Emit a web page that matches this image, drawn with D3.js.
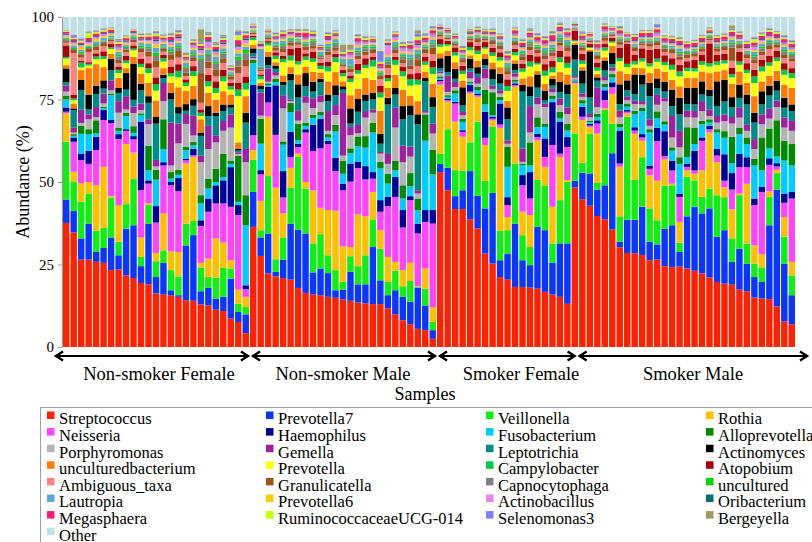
<!DOCTYPE html>
<html>
<head>
<meta charset="utf-8">
<script src="https://cdn.jsdelivr.net/npm/d3@7"></script>
<style>
body { margin: 0; background: #fff; }
svg { font-family: "Liberation Serif", "Times New Roman", serif; }
</style>
</head>
<body>
<svg id="chart" width="812" height="542"></svg>
<script>
// groups of samples, left to right
const groupNames = ["Non-smoker Female", "Non-smoker Male", "Smoker Female", "Smoker Male"];
const groupSizes = [25, 25, 18, 30];

// taxa, bottom of the stack to the top (legend reads row by row)
const taxa = ["Streptococcus", "Prevotella7", "Veillonella", "Rothia",
  "Neisseria", "Haemophilus", "Fusobacterium", "Alloprevotella",
  "Porphyromonas", "Gemella", "Leptotrichia", "Actinomyces",
  "unculturedbacterium", "Prevotella", "Campylobacter", "Atopobium",
  "Ambiguous_taxa", "Granulicatella", "Capnocytophaga", "uncultured",
  "Lautropia", "Prevotella6", "Actinobacillus", "Oribacterium",
  "Megasphaera", "RuminococcaceaeUCG-014", "Selenomonas3", "Bergeyella", "Other"];

const taxonColors = ["#ff2200", "#0a36ff", "#11ee11", "#ffc000",
  "#ff44ff", "#000099", "#00ccff", "#008a00",
  "#b4b4b4", "#a0209f", "#008b8b", "#000000",
  "#ff7a00", "#ffff00", "#00c848", "#a80000",
  "#ff8080", "#a05214", "#808080", "#00d800",
  "#58a8d8", "#ffcc00", "#ee82ee", "#007272",
  "#ff1a75", "#c8ff00", "#8080ff", "#a39a60", "#bfe0e9"];

// abundance (%) per sample; groups of 25 / 25 / 18 / 30 samples
const streptococcus = [37.6,34.7,26.5,26.5,25.8,25.5,23.3,23.5,21.7,20.9,19.4,19.0,16.2,15.9,15.7,15.2,14.2,14.0,12.9,12.6,11.3,10.9,8.6,7.6,4.2,
  36.4,27.6,22.3,21.4,20.9,20.4,17.9,16.4,15.9,15.7,15.2,14.9,14.4,14.0,13.5,13.2,13.0,13.0,11.7,9.9,8.1,6.9,5.5,5.1,2.5,
  53.0,47.5,41.8,41.8,38.7,35.9,28.3,25.3,21.2,20.4,18.2,18.2,18.0,17.7,16.7,15.9,15.2,13.1,
  48.4,44.8,42.8,39.7,38.7,35.6,30.2,28.5,28.4,27.9,26.3,26.5,24.5,24.2,24.4,23.8,23.1,22.3,21.1,19.7,19.2,18.9,17.4,16.9,15.0,14.7,14.5,12.3,7.8,6.9];
const prevotella7 = [7.1,6.5,6.4,10.9,3.0,4.5,9.9,4.3,14.2,16.0,5.1,18.4,5.0,9.6,1.5,0.5,16.6,19.9,4.0,5.4,3.4,4.3,12.1,3.0,5.7,
  10.6,5.6,12.1,1.4,5.6,17.0,17.7,18.0,6.7,8.1,7.2,2.3,3.0,8.8,5.5,5.8,17.3,7.2,4.0,7.3,7.1,6.8,12.5,7.5,2.6,
  2.5,6.8,3.9,5.7,14.6,9.9,13.7,21.4,5.1,7.9,19.2,8.1,6.8,18.7,18.7,9.7,16.2,18.3,
  2.0,8.0,9.8,8.0,10.3,23.1,1.7,10.1,10.2,14.6,5.6,4.6,11.4,12.7,4.4,15.8,19.4,18.2,20.9,13.7,16.2,6.9,12.4,8.4,6.2,5.0,22.4,35.4,17.5,8.8];
const veillonella = [17.5,8.8,11.1,9.1,6.4,6.2,12.1,4.1,7.4,14.0,2.8,5.6,4.8,3.8,6.1,5.7,6.6,4.3,7.2,3.2,6.3,8.8,3.1,2.5,2.2,
  9.8,2.2,17.4,3.8,6.7,10.9,22.0,13.6,8.8,10.4,5.4,6.1,2.3,4.7,5.5,8.8,8.4,9.6,4.0,5.9,3.2,6.3,0.2,5.1,2.5,
  3.0,11.7,7.9,6.0,8.7,22.5,8.3,20.0,8.9,7.1,18.2,7.6,5.5,14.2,13.6,5.8,13.1,18.7,
  14.3,3.0,12.0,2.0,22.8,9.0,7.7,31.2,12.0,15.0,10.1,7.3,13.0,12.1,2.8,12.0,8.0,5.0,6.0,12.6,10.0,7.1,16.2,6.1,4.1,4.4,8.6,5.0,8.1,6.0];
const rothia = [8.6,3.1,5.6,3.5,13.8,18.4,0.5,11.1,18.2,8.0,5.9,0.5,2.5,11.2,5.7,7.4,18.2,19.4,1.4,5.6,11.9,7.7,2.5,4.3,3.1,
  2.9,8.9,18.0,21.7,7.3,6.0,1.0,2.0,16.0,8.0,13.7,18.0,10.8,2.8,15.7,11.8,8.3,5.6,7.6,2.7,4.9,5.5,0.2,6.1,4.5,
  21.0,8.3,14.7,10.2,14.9,7.5,10.9,2.0,31.2,4.0,23.3,7.1,9.7,12.0,5.6,11.1,13.1,0.5,
  15.2,13.0,2.0,15.0,0.5,9.0,15.0,1.0,14.0,5.0,10.0,12.0,8.0,0.5,6.3,2.0,2.0,8.0,17.0,10.0,3.0,8.8,0.5,18.1,5.5,4.0,1.7,1.0,6.0,4.1];
const neisseria = [0.5,9.1,7.0,5.5,10.7,14.2,22.0,20.0,4.0,4.0,14.3,6.0,9.2,14.5,20.0,18.4,1.0,0.5,11.2,14.2,10.6,11.8,16.2,22.6,2.3,
  4.5,8.0,4.3,16.0,4.8,3.3,2.0,15.0,12.0,18.0,20.0,12.0,17.0,19.8,14.0,11.2,4.0,5.6,15.4,19.7,12.9,19.0,16.0,14.1,25.3,
  1.0,0.5,5.5,1.5,0.5,0.5,2.2,0.5,1.0,3.6,0.5,8.0,5.0,1.0,3.0,18.7,1.0,10.0,
  0.3,1.0,0.5,3.0,2.5,2.0,1.0,0.5,1.0,1.0,2.0,12.0,1.0,4.0,7.6,1.0,1.0,9.0,1.0,2.0,2.0,6.0,8.0,5.0,12.2,18.9,8.0,1.0,4.3,19.2];
const haemophilus = [1.3,1.3,2.0,4.0,4.0,3.0,1.0,1.5,0.5,1.0,20.8,1.0,5.0,1.0,1.0,4.0,0.5,2.0,1.7,4.0,5.5,7.0,12.0,3.0,1.2,
  15.2,1.3,4.8,15.0,8.0,7.6,1.0,1.0,8.0,9.0,1.0,4.0,2.0,5.5,2.0,4.0,2.0,3.5,2.8,6.0,5.3,1.2,3.0,3.6,4.1,
  0.5,0.5,0.5,0.5,2.0,0.5,7.9,0.5,6.4,2.4,0.5,3.1,8.0,1.0,5.6,13.0,9.7,3.0,
  0.3,3.0,0.5,1.0,3.0,1.5,10.0,0.5,1.0,1.0,1.0,4.0,7.5,3.0,1.0,1.0,6.0,1.0,1.0,2.0,8.0,5.0,4.0,3.0,2.0,1.5,2.0,1.0,2.8,2.0];
const fusobacterium = [2.4,0.5,6.0,5.0,1.0,0.5,7.5,1.0,4.0,1.0,2.0,3.0,8.0,4.0,1.0,1.0,2.5,1.0,5.1,3.0,1.0,1.0,1.0,1.0,18.2,
  6.6,8.0,0.5,1.0,8.0,6.0,1.0,1.0,2.0,1.0,1.0,8.0,3.0,3.1,4.6,5.6,12.0,9.6,4.0,2.0,3.5,3.0,4.0,21.0,10.8,
  0.5,0.5,2.5,2.5,0.5,1.0,2.2,0.5,1.0,9.2,0.5,3.0,2.0,2.0,3.5,1.0,1.0,2.0,
  0.3,1.0,0.5,1.0,1.0,1.5,1.0,1.0,4.0,7.0,10.0,3.0,2.0,3.0,9.0,2.0,2.0,4.0,1.0,5.0,5.0,3.0,6.0,4.0,10.0,5.0,3.0,2.0,10.0,8.0];
const alloprevotella = [1.2,0.5,2.5,1.5,4.0,0.5,0.5,1.0,1.0,2.0,0.5,7.5,3.0,9.0,2.0,1.5,1.0,1.0,2.5,3.0,4.0,7.0,1.0,14.0,9.1,
  1.0,7.5,0.5,1.0,1.0,2.8,5.0,1.0,1.0,1.0,1.0,2.0,4.0,1.5,3.0,3.5,3.0,2.0,3.0,3.0,4.0,4.0,3.6,8.0,7.4,
  0.5,0.5,1.0,1.0,0.5,1.0,4.4,7.0,1.0,6.0,0.5,0.5,7.0,3.0,1.0,1.0,2.0,2.0,
  0.3,1.0,0.5,1.0,1.0,1.0,1.0,1.0,1.0,1.0,1.0,2.0,1.0,1.0,2.0,9.0,5.0,1.0,1.0,1.0,2.0,8.0,2.0,2.0,2.0,10.0,6.0,11.0,6.0,6.5];
const porphyromonas = [1.2,0.5,0.8,3.0,1.0,1.0,1.0,4.5,1.0,4.0,1.0,6.5,1.0,5.5,2.0,8.0,7.0,2.0,10.0,9.0,8.0,7.0,10.0,0.5,10.0,
  0.5,1.0,0.5,1.0,10.0,0.5,1.0,6.0,2.0,3.0,1.0,3.0,1.5,4.0,1.0,5.6,3.0,2.5,3.0,10.0,7.0,5.0,1.5,0.5,5.0,
  1.0,1.0,1.0,1.0,1.0,1.0,3.5,1.0,1.0,1.0,1.0,0.5,3.0,4.0,5.0,1.0,2.0,3.0,
  0.5,1.0,1.0,2.0,1.0,1.0,2.0,1.0,2.0,1.0,1.0,2.0,6.0,3.0,3.0,3.0,3.0,3.0,1.0,2.0,3.0,4.0,3.0,2.0,3.0,4.0,3.0,4.0,4.0,4.0];
const gemella = [1.8,1.5,4.0,1.5,3.0,3.0,3.0,3.5,4.0,2.0,2.0,1.5,2.0,5.5,13.0,6.0,3.0,6.0,2.0,7.0,2.0,3.0,4.0,0.5,4.0,
  0.5,7.0,4.0,1.0,4.0,0.5,3.0,2.0,3.0,2.0,6.0,3.0,19.0,2.5,2.5,2.0,1.0,0.5,3.0,6.0,5.0,3.0,1.0,0.5,3.0,
  0.5,5.0,1.5,1.0,2.0,2.0,3.0,1.0,1.0,1.0,1.0,4.0,8.0,2.0,1.0,1.0,2.0,2.0,
  0.5,1.0,1.0,6.0,1.0,1.0,2.0,1.0,1.0,1.0,2.0,3.0,1.0,6.5,5.0,2.0,2.0,3.0,2.0,2.0,2.0,2.0,3.0,2.0,3.0,3.0,3.0,2.0,3.0,3.0];
const leptotrichia = [1.0,5.3,6.0,1.5,4.0,1.5,3.0,2.5,2.0,2.0,4.0,5.0,11.0,1.5,7.0,3.0,1.0,3.0,6.0,3.0,6.0,3.0,2.0,0.5,8.0,
  1.0,1.0,1.0,1.0,3.0,5.8,4.0,3.0,2.0,4.0,3.0,3.0,1.0,1.0,4.0,3.0,3.0,2.5,15.0,4.0,8.0,9.5,20.0,9.0,5.0,
  1.0,1.0,1.0,2.0,1.0,1.0,1.0,2.0,2.0,6.5,1.0,17.3,3.0,3.0,1.0,1.0,2.0,4.0,
  5.0,3.0,5.0,2.0,2.0,1.0,2.0,2.0,2.0,5.0,7.0,2.0,2.0,3.0,5.0,2.0,2.0,2.0,4.0,3.0,4.0,3.0,3.0,6.0,5.0,3.0,4.0,3.0,3.0,3.0];
const actinomyces = [4.2,0.5,3.0,4.5,2.5,2.5,3.5,1.5,5.0,11.0,2.0,2.0,2.0,1.0,2.0,2.0,2.0,2.0,1.0,3.0,1.0,2.0,1.0,0.5,3.0,
  1.5,1.0,2.5,1.0,1.0,2.0,4.0,4.0,3.0,1.0,2.0,3.0,1.0,4.6,4.0,2.0,2.0,3.0,2.0,2.0,4.0,3.0,3.0,1.0,3.0,
  3.0,5.0,3.0,5.5,3.0,2.0,2.0,3.0,3.0,3.5,2.0,2.0,3.0,4.0,3.0,2.0,3.0,3.0,
  4.5,4.0,14.0,1.0,3.0,3.5,6.0,3.0,6.0,3.0,4.0,3.0,3.0,5.0,5.0,5.0,5.0,4.0,2.0,7.5,6.5,3.0,4.0,3.0,3.0,4.0,3.0,3.0,3.0,2.0];
const unculturedbacterium = [1.0,1.5,3.0,8.0,6.5,4.0,1.5,3.0,1.5,2.0,3.0,4.0,5.0,2.0,3.0,6.0,4.0,4.0,4.0,4.0,4.0,4.0,3.0,2.0,5.0,
  1.0,1.0,1.5,1.0,2.0,2.0,3.0,2.0,3.0,2.0,4.0,4.0,1.5,4.0,3.0,5.0,4.0,7.0,3.0,4.0,5.0,3.0,4.0,2.0,4.0,
  1.5,1.5,2.0,2.0,1.0,2.0,1.5,2.0,2.0,2.0,1.0,2.0,3.0,1.0,2.0,1.0,3.0,3.0,
  0.5,1.0,0.5,1.0,1.0,2.0,4.0,2.0,2.0,2.0,3.0,3.0,3.0,3.0,3.5,3.0,3.0,3.0,5.0,3.0,3.0,4.0,4.0,3.5,5.0,3.0,3.0,3.0,4.0,5.0];
const prevotella = [2.0,1.0,0.8,0.8,1.5,2.5,1.5,1.5,1.5,2.0,2.0,3.0,3.0,2.0,2.0,3.0,1.5,3.0,1.0,2.0,2.0,3.0,1.5,14.0,2.0,
  1.5,1.0,2.0,1.0,4.0,2.0,3.0,2.0,3.0,1.0,3.0,3.0,1.5,4.0,4.5,3.0,4.0,4.0,2.0,3.0,4.0,3.0,5.0,2.0,3.0,
  2.0,1.5,2.0,2.0,1.5,2.0,1.5,2.0,2.0,3.0,1.5,2.0,3.0,2.0,2.5,1.0,3.0,2.0,
  0.5,1.0,0.5,1.0,2.0,1.0,3.0,2.0,1.0,2.0,2.0,2.0,2.0,3.0,3.0,2.0,2.0,2.0,2.0,2.0,2.0,2.0,2.0,3.0,4.0,3.0,3.0,3.0,3.0,3.0];
const campylobacter = [0.5,0.5,1.5,0.5,0.8,0.8,0.5,1.0,0.8,0.5,1.0,1.5,2.0,1.0,1.0,2.0,1.0,1.5,1.0,1.5,1.5,1.5,1.0,2.0,2.0,
  0.8,1.0,0.8,1.0,1.0,1.5,1.0,1.0,1.0,1.0,1.5,1.5,1.0,1.0,1.0,1.0,2.0,1.5,1.0,1.5,1.5,2.0,1.5,1.0,2.0,
  0.8,0.5,1.0,1.0,1.0,1.0,0.5,1.0,1.0,1.5,1.0,1.0,1.5,0.5,1.5,1.5,1.5,1.5,
  0.3,1.0,0.3,1.0,1.0,0.5,1.0,1.0,1.0,1.0,1.0,1.0,1.0,1.5,1.5,1.0,1.0,1.0,1.0,1.0,1.0,1.0,1.0,1.0,2.0,1.5,1.0,1.0,1.5,1.5];
const atopobium = [3.5,1.2,0.5,0.5,1.0,1.5,1.0,1.0,1.5,1.0,1.5,1.5,2.0,1.0,2.0,2.0,1.0,1.5,1.0,2.0,2.0,2.0,1.0,2.0,2.0,
  0.5,0.5,0.5,1.0,1.0,2.0,4.0,1.0,2.0,1.0,1.5,1.0,1.0,1.0,2.0,2.0,1.0,2.0,1.0,1.0,1.5,1.5,2.0,1.5,2.0,
  1.5,1.0,1.5,1.5,1.5,1.5,1.5,1.5,1.5,2.0,1.0,1.5,2.0,2.0,2.0,2.0,2.0,2.0,
  3.0,2.0,1.0,1.5,1.0,1.0,3.0,6.0,2.0,3.0,4.0,3.0,2.0,2.0,2.0,2.0,2.5,2.0,6.0,2.0,2.0,2.0,3.0,2.0,2.0,2.0,2.0,2.0,2.0,1.5];
const ambiguousTaxa = [0.8,12.5,1.0,3.0,1.0,1.5,0.8,1.0,1.0,1.0,2.0,2.0,3.0,1.0,2.0,2.0,1.0,1.5,2.0,2.0,1.5,2.0,1.0,3.0,3.0,
  0.5,1.0,0.5,0.5,1.0,1.0,1.0,1.0,1.0,1.0,2.0,1.0,1.0,1.0,1.5,1.0,1.0,2.0,2.0,1.0,1.0,1.5,2.0,1.0,2.0,
  0.8,0.5,0.5,1.0,0.5,1.0,0.5,1.0,1.0,1.5,1.0,1.0,1.5,1.0,1.5,1.5,1.5,1.5,
  0.3,1.0,0.5,1.0,1.0,0.5,1.0,0.5,1.0,1.0,1.0,1.0,1.0,1.5,1.5,1.0,1.0,1.0,1.0,1.0,1.0,2.0,1.0,1.5,2.0,1.5,2.0,1.0,1.5,2.0];
const granulicatella = [0.5,1.0,0.8,1.0,1.0,1.0,0.6,1.0,0.8,0.8,1.0,1.5,2.0,0.8,1.5,2.0,1.0,1.0,9.0,2.0,2.0,1.5,1.0,2.0,2.0,
  0.5,0.5,0.5,1.0,1.0,1.0,0.5,1.0,1.0,0.5,1.0,1.0,0.5,1.0,1.0,1.0,1.0,1.0,1.0,1.0,1.0,1.0,2.0,1.0,2.0,
  0.5,0.5,0.5,1.0,0.5,1.0,0.5,1.0,1.0,1.0,1.0,1.0,1.0,1.0,1.0,1.0,1.0,1.0,
  0.2,1.0,0.5,1.0,1.0,0.5,1.0,0.5,1.0,0.5,1.0,1.0,1.0,1.0,1.0,1.0,1.0,1.0,0.5,1.0,1.0,4.0,1.0,1.0,1.0,1.0,1.0,1.0,1.0,1.0];
const capnocytophaga = [0.3,0.3,0.5,0.3,0.5,0.5,0.3,1.0,0.5,0.5,0.5,1.0,1.5,0.5,1.0,1.0,1.5,1.0,4.0,2.0,2.0,1.5,0.5,2.0,2.0,
  0.3,0.5,0.3,0.5,1.0,0.5,0.5,0.5,1.0,0.5,1.0,1.0,0.5,0.5,1.0,1.0,0.5,0.5,1.0,1.0,1.0,2.0,1.5,0.5,1.0,
  0.5,0.3,0.5,0.5,0.3,0.5,0.3,0.5,0.5,1.0,0.5,1.0,1.0,0.5,1.0,1.0,1.0,1.0,
  0.2,0.5,0.3,0.5,0.5,0.3,0.5,0.3,0.5,0.5,0.5,0.5,0.5,0.5,1.0,0.5,0.5,0.5,0.5,0.5,0.5,1.0,0.5,0.5,1.0,1.0,1.0,0.5,1.0,1.0];
const uncultured = [0.3,0.3,0.5,0.3,0.3,0.3,0.3,0.5,0.3,0.3,0.5,0.5,1.0,0.3,0.5,0.5,0.5,0.5,0.5,0.5,0.5,0.5,0.3,1.0,1.0,
  0.3,0.3,0.3,0.3,0.5,0.5,0.3,0.5,0.5,0.3,0.5,0.5,0.3,0.5,0.5,0.5,0.5,0.5,0.5,0.5,0.5,0.5,0.5,0.5,0.5,
  0.3,0.3,0.3,0.3,0.3,0.3,0.3,0.3,0.3,0.5,0.3,0.5,0.5,0.5,0.5,0.5,0.5,0.5,
  0.2,0.3,0.2,0.3,0.3,0.2,0.3,0.2,0.3,0.3,0.3,0.3,0.3,0.3,0.5,0.3,0.3,0.3,0.3,0.3,0.3,0.5,0.3,0.3,0.5,0.5,0.5,0.3,0.5,0.5];
const lautropia = [0.5,0.8,0.5,0.5,0.8,0.8,0.5,1.0,0.6,0.5,0.8,1.0,1.5,0.8,1.0,1.0,1.0,1.0,1.0,1.0,1.5,1.0,0.5,1.0,1.0,
  0.3,5.5,0.5,1.0,1.0,0.5,0.5,0.5,0.5,1.0,1.0,1.0,1.0,2.0,1.0,0.5,0.5,0.5,1.0,1.0,0.5,1.0,1.0,0.5,1.0,
  0.3,0.3,0.3,0.5,0.3,0.5,0.3,0.5,0.5,1.0,0.5,0.5,0.5,0.5,1.0,1.0,1.0,1.0,
  0.2,0.5,0.3,0.5,0.5,0.3,0.5,0.3,0.5,0.5,0.5,0.5,0.5,0.5,1.0,0.5,0.5,0.5,0.3,0.5,0.5,1.0,0.5,0.5,1.0,1.0,0.5,0.5,1.0,0.5];
const prevotella6 = [0.5,0.4,1.0,0.5,0.8,0.5,0.5,0.5,0.5,0.3,0.5,0.5,1.0,0.5,0.5,0.5,0.5,0.5,0.5,0.5,0.5,0.5,0.3,1.0,1.0,
  0.3,0.3,0.3,0.3,0.5,0.5,0.3,0.5,0.3,0.3,0.5,0.5,0.3,0.3,0.5,0.3,0.5,0.5,0.5,0.5,0.5,0.5,0.5,0.5,0.5,
  0.3,0.3,0.3,0.3,0.3,0.3,0.3,0.3,0.3,0.5,0.5,0.5,0.5,0.5,0.5,0.5,0.5,0.5,
  0.2,0.5,0.2,0.5,0.3,0.2,0.3,0.2,0.3,0.3,0.3,0.3,0.3,0.3,0.5,0.3,0.3,0.3,0.3,0.3,0.3,0.5,0.3,0.3,0.5,0.5,0.5,0.3,0.5,0.5];
const actinobacillus = [0.3,0.5,0.5,0.5,0.5,0.6,0.3,0.8,0.5,0.3,0.5,0.5,1.0,0.5,1.0,0.8,0.5,0.8,1.0,2.0,1.0,0.8,0.3,1.0,1.0,
  0.3,0.5,0.3,0.5,0.5,0.5,0.3,0.5,0.5,0.3,0.5,0.5,0.5,1.0,1.0,0.5,0.5,0.5,3.0,1.0,1.0,1.0,1.0,0.5,1.0,
  0.3,0.3,0.3,0.5,0.3,0.5,0.3,0.5,0.5,0.5,0.5,0.5,0.5,0.5,0.5,0.5,0.5,0.5,
  0.2,0.5,0.3,0.5,0.5,0.3,0.5,0.3,0.5,0.3,0.3,1.0,0.3,0.5,0.5,0.3,0.3,0.3,0.3,0.3,0.3,0.5,0.3,0.5,1.0,0.5,0.5,0.3,0.5,0.5];
const oribacterium = [0.3,0.4,0.3,0.3,0.3,0.3,0.3,0.3,0.3,0.3,0.3,0.3,0.5,0.3,0.5,0.5,0.3,0.3,0.5,0.5,0.5,0.5,0.2,0.5,0.5,
  0.3,0.3,0.2,0.3,0.3,0.3,0.3,0.3,0.3,0.3,0.3,0.3,0.3,0.3,0.3,0.3,0.3,0.3,0.3,0.3,0.3,0.3,0.5,0.3,0.3,
  0.3,0.3,0.3,0.3,0.3,0.3,0.3,0.3,0.3,0.3,0.3,0.3,0.3,0.3,0.3,0.3,0.3,0.3,
  0.2,0.3,0.2,0.3,0.3,0.2,0.3,0.2,0.3,0.3,0.3,0.3,0.3,0.3,0.3,0.3,0.3,0.3,0.3,0.3,0.3,0.3,0.3,0.3,0.3,0.3,0.3,0.3,0.3,0.3];
const megasphaera = [0.6,0.6,0.5,1.0,0.8,0.5,0.8,0.8,0.8,0.5,0.6,0.8,1.0,0.6,1.0,0.8,0.6,0.6,0.8,1.0,1.0,0.8,0.5,1.5,1.0,
  0.3,0.5,0.3,0.5,0.8,0.5,1.0,1.5,0.5,0.5,1.0,0.5,0.5,0.5,1.0,0.5,0.5,1.0,0.5,0.5,0.5,1.0,1.0,1.0,1.0,
  0.5,0.5,0.5,0.5,0.5,0.5,0.5,0.5,0.5,1.0,1.0,1.0,1.0,1.0,1.0,1.5,1.0,1.0,
  0.3,1.0,0.5,1.0,1.0,0.5,1.0,0.5,1.0,1.0,1.0,1.0,1.0,1.0,1.0,1.0,1.0,1.0,0.5,1.0,1.0,1.0,1.0,1.0,1.0,1.0,1.0,1.0,1.0,1.0];
const ruminococcaceae = [0.4,0.4,0.5,1.5,0.5,0.5,0.5,0.5,0.5,0.3,0.5,0.5,0.8,0.5,0.5,0.5,0.5,0.5,0.5,0.5,0.5,0.5,0.3,1.5,0.5,
  0.3,0.3,0.3,0.5,0.5,0.3,0.5,0.5,0.5,0.3,0.5,0.5,0.5,0.5,0.5,0.5,0.5,0.5,0.5,0.5,0.5,0.5,1.0,0.5,0.5,
  0.3,0.3,0.3,0.5,0.3,0.5,0.3,0.5,0.5,0.5,0.5,0.5,0.5,0.5,0.5,0.5,0.5,0.5,
  0.2,0.5,0.3,0.5,0.5,0.3,0.5,0.3,0.5,0.5,0.5,0.5,0.5,0.5,0.5,0.5,0.5,0.5,0.5,0.5,0.5,0.5,0.5,0.5,1.0,0.5,0.5,0.5,0.5,0.5];
const selenomonas3 = [0.2,0.8,0.6,0.3,0.3,0.3,0.2,0.5,0.3,0.2,0.4,0.3,0.5,0.3,0.5,0.5,0.3,0.3,0.5,0.5,0.5,0.5,0.2,1.0,0.5,
  0.3,0.3,0.2,0.5,0.3,0.3,0.5,0.3,0.3,0.3,0.5,0.3,0.3,0.3,0.5,0.3,0.3,3.0,0.3,0.3,0.3,0.5,1.0,0.5,0.5,
  0.3,0.3,0.3,0.3,0.3,0.3,0.3,0.3,0.3,0.5,0.3,0.5,0.5,0.5,0.5,0.5,0.5,0.5,
  0.2,0.5,0.2,0.5,0.3,0.2,0.5,0.2,0.3,0.3,0.3,1.0,0.3,0.3,0.3,0.3,0.3,0.3,0.3,0.3,0.3,0.5,0.3,0.3,0.5,0.3,0.5,0.3,0.5,0.5];
const bergeyella = [0.1,0.2,0.2,0.2,0.2,0.2,0.1,0.5,0.2,0.1,0.2,0.2,0.3,0.2,0.3,0.3,0.5,0.3,4.0,0.5,0.5,0.5,0.3,0.5,0.3,
  0.1,0.1,0.1,0.2,0.3,0.2,0.2,0.3,0.2,0.2,0.3,0.3,2.0,1.5,0.3,0.3,0.2,0.3,0.3,0.2,0.3,0.3,1.0,0.3,0.3,
  0.1,0.1,0.2,0.3,0.2,0.2,0.2,0.2,0.2,0.3,0.3,0.3,0.3,0.3,0.3,0.3,0.3,0.3,
  0.1,0.3,0.1,0.3,0.2,0.1,0.3,0.1,0.2,0.2,0.2,0.2,0.2,0.2,0.3,0.2,0.2,0.2,0.2,0.2,0.2,1.0,0.2,0.2,0.3,0.3,0.3,0.2,0.3,0.3];

const yTicks = [0, 25, 50, 75, 100];

const series = [streptococcus, prevotella7, veillonella, rothia, neisseria, haemophilus,
  fusobacterium, alloprevotella, porphyromonas, gemella, leptotrichia, actinomyces,
  unculturedbacterium, prevotella, campylobacter, atopobium, ambiguousTaxa, granulicatella,
  capnocytophaga, uncultured, lautropia, prevotella6, actinobacillus, oribacterium,
  megasphaera, ruminococcaceae, selenomonas3, bergeyella];

// one row per sample; "Other" is what is left up to 100 %
const nSamples = d3.sum(groupSizes);
const rows = d3.range(nSamples).map(i => {
  const r = { id: i };
  let tot = 0;
  series.forEach((s, k) => { r[taxa[k]] = s[i]; tot += s[i]; });
  r.Other = Math.max(0, 100 - tot);
  return r;
});

const svg = d3.select("#chart");
const plotLeft = 63, plotRight = 795, plotTop = 17, plotBottom = 347;

const x = d3.scaleBand()
  .domain(rows.map(d => d.id))
  .range([plotLeft, plotRight])
  .paddingInner(0.14)
  .paddingOuter(0);
const y = d3.scaleLinear().domain([0, 100]).range([plotBottom, plotTop]);
const color = d3.scaleOrdinal().domain(taxa).range(taxonColors);

svg.append("clipPath").attr("id", "plotclip")
  .append("rect").attr("x", plotLeft).attr("y", plotTop)
  .attr("width", plotRight - plotLeft).attr("height", plotBottom - plotTop);

const stacked = d3.stack().keys(taxa)(rows);

svg.append("g").attr("clip-path", "url(#plotclip)")
  .selectAll("g").data(stacked).join("g")
  .attr("fill", d => color(d.key))
  .selectAll("rect").data(d => d).join("rect")
  .attr("x", d => x(d.data.id))
  .attr("width", x.bandwidth())
  .attr("y", d => y(d[1]))
  .attr("height", d => Math.max(0, y(d[0]) - y(d[1])));

// y axis
const yAxis = svg.append("g")
  .attr("transform", `translate(${plotLeft - 1},0)`)
  .call(d3.axisLeft(y).tickValues(yTicks).tickSize(4).tickSizeOuter(0).tickPadding(4));
yAxis.select(".domain").attr("stroke", "#9a9a9a");
yAxis.selectAll(".tick line").attr("stroke", "#9a9a9a");
yAxis.selectAll(".tick text")
  .attr("font-family", "Liberation Serif, serif")
  .attr("font-size", 15).attr("fill", "#000");

svg.append("text")
  .attr("transform", `translate(29,${(plotTop + plotBottom) / 2}) rotate(-90)`)
  .attr("text-anchor", "middle")
  .attr("font-size", 18)
  .text("Abundance (%)");

// group arrows and labels
const arrowY = 356;
const arrowPad = [[-8, 0], [2, 0], [2, 5], [7, 13]];
const groupLabelX = [159, 343, 521, 693];
let start = 0;
groupSizes.forEach((n, g) => {
  const x1 = x(start) + arrowPad[g][0];
  const x2 = x(start + n - 1) + x.bandwidth() + arrowPad[g][1];
  const ag = svg.append("g").attr("stroke", "#000").attr("fill", "none");
  ag.append("line").attr("x1", x1 + 1).attr("x2", x2 - 1)
    .attr("y1", arrowY).attr("y2", arrowY).attr("stroke-width", 2);
  ag.append("path").attr("stroke-width", 2.4).attr("stroke-linejoin", "miter")
    .attr("d", `M${x1 + 8},${arrowY - 4.5}L${x1 + 1},${arrowY}L${x1 + 8},${arrowY + 4.5}`);
  ag.append("path").attr("stroke-width", 2.4).attr("stroke-linejoin", "miter")
    .attr("d", `M${x2 - 8},${arrowY - 4.5}L${x2 - 1},${arrowY}L${x2 - 8},${arrowY + 4.5}`);
  svg.append("text")
    .attr("x", groupLabelX[g]).attr("y", 380)
    .attr("text-anchor", "middle").attr("font-size", 18.5)
    .text(groupNames[g]);
  start += n;
});

svg.append("text")
  .attr("x", 425).attr("y", 400)
  .attr("text-anchor", "middle").attr("font-size", 18)
  .text("Samples");

// legend
svg.append("rect")
  .attr("x", 40.5).attr("y", 407.5)
  .attr("width", 800).attr("height", 160)
  .attr("fill", "none").attr("stroke", "#a0a0a0");

const legendColX = [47, 266, 486, 706];
const legend = svg.append("g");
taxa.forEach((t, i) => {
  const cx = legendColX[i % 4];
  const ry = 411.5 + Math.floor(i / 4) * 16.6;
  legend.append("rect")
    .attr("x", cx).attr("y", ry).attr("width", 7.5).attr("height", 7.5)
    .attr("fill", color(t));
  legend.append("text")
    .attr("x", cx + 12).attr("y", ry + 12.8)
    .attr("font-size", 16.5)
    .text(t);
});
</script>
</body>
</html>
